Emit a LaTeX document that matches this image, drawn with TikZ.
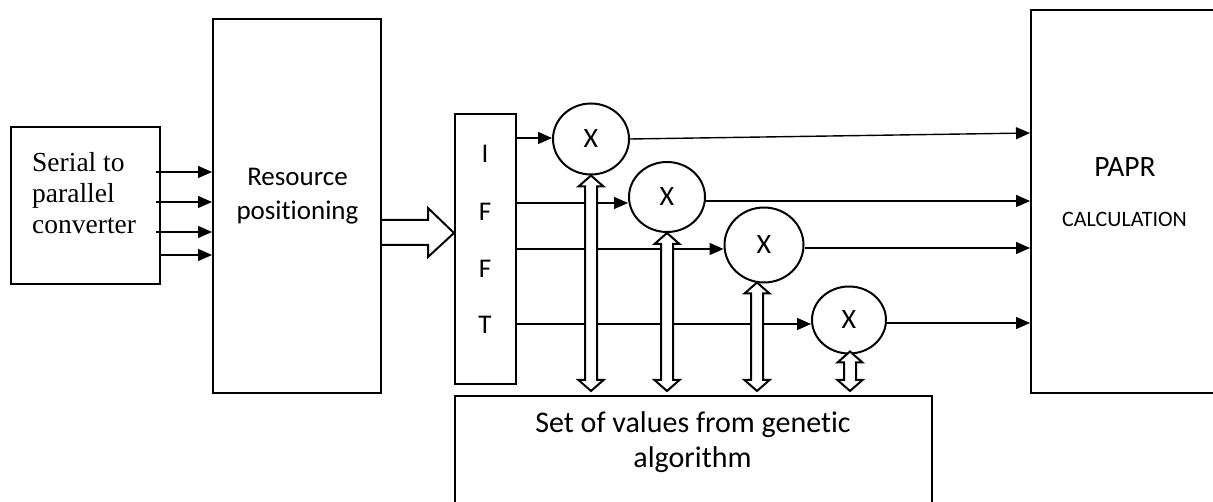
\documentclass[tikz,border=0pt]{standalone}
\usepackage{fontspec}
\setmainfont{Carlito}[Ligatures=NoCommon]
\newfontfamily\serialserif{Liberation Serif}
\usetikzlibrary{arrows.meta,shapes.geometric,calc}

% hollow two-headed vertical arrow between a top point and a bottom point
\newcommand\twoway[2]{%
  \draw[hollow] (#1) -- ++(-12.5,11) -- ++(6.5,0) -- ($(#2)+(-6,-11)$)
    -- ++(-6.5,0) -- (#2) -- ++(12.5,-11) -- ++(-6.5,0)
    -- ($(#1)+(6,11)$) -- ++(6.5,0) -- cycle;}

\begin{document}
\begin{tikzpicture}[x=1pt,y=-1pt,
  block/.style={draw,line width=2pt,inner sep=0pt,rectangle},
  mixer/.style={draw,line width=2pt,ellipse,inner sep=0pt,
    font=\fontsize{28}{32}\selectfont},
  feed/.style={line width=1.4pt,-{Triangle[length=14pt,width=12pt]}},
  hollow/.style={draw,line width=2pt,fill=white,line join=miter},
  txt/.style={inner sep=0pt,anchor=base},
  serialtxt/.style={inner sep=0pt,anchor=base west,
    font=\serialserif\fontsize{27.5}{31}\selectfont},
]
\useasboundingbox (0,0) rectangle (1213,502);

% blocks
\node[block,minimum width=149pt,minimum height=157pt] (sp) at (85.5,205.5) {};
\node[block,minimum width=168pt,minimum height=374pt] (res) at (297,206) {};
\node[block,minimum width=61pt,minimum height=270pt] (ifft) at (485.5,249) {};
\node[block,minimum width=209pt,minimum height=383pt] (papr) at (1135.5,201.5) {};
\node[block,minimum width=477pt,minimum height=124pt] (ga) at (693.5,458) {};

% block texts
\node[serialtxt] (sp1) at (32,172) {Serial to};
\node[serialtxt] (sp2) at (32,203) {parallel};
\node[serialtxt] (sp3) at (32,234) {converter};
\node[txt,font=\fontsize{27}{30}\selectfont] (rs1) at (297.5,186) {Resource};
\node[txt,font=\fontsize{27}{30}\selectfont] (rs2) at (297.5,220) {positioning};
\node[inner sep=0pt,font=\fontsize{27}{30}\selectfont] (lI) at (485,153.5) {I};
\node[inner sep=0pt,font=\fontsize{27}{30}\selectfont] (lF1) at (485,211.5) {F};
\node[inner sep=0pt,font=\fontsize{27}{30}\selectfont] (lF2) at (485,269) {F};
\node[inner sep=0pt,font=\fontsize{27}{30}\selectfont] (lT) at (485,325) {T};
\node[inner sep=0pt,font=\fontsize{29.5}{32}\selectfont] (pp1) at (1125,167) {PAPR};
\node[inner sep=0pt,font=\fontsize{22}{25}\selectfont] (pp2) at (1124.5,219.5) {CALCULATION};
\node[txt,font=\fontsize{30}{34}\selectfont] (ga1) at (693,432) {Set of values from genetic};
\node[txt,font=\fontsize{30}{34}\selectfont] (ga2) at (692.5,467) {algorithm};

% multipliers
\node[mixer,minimum width=76pt,minimum height=71pt] (c1) at (591,139) {X};
\node[mixer,minimum width=76pt,minimum height=70pt] (c2) at (667,197) {X};
\node[mixer,minimum width=79pt,minimum height=75pt] (c3) at (764,245) {X};
\node[mixer,minimum width=74pt,minimum height=67pt] (c4) at (849,320) {X};

% serial to parallel outputs
\draw[feed] ($(sp.east |- 0,172)+(-5,0)$) -- (res.west |- 0,172);
\draw[feed] ($(sp.east |- 0,202)+(-5,0)$) -- (res.west |- 0,202);
\draw[feed] ($(sp.east |- 0,232)+(-5,0)$) -- (res.west |- 0,232);
\draw[feed] (sp.east |- 0,255) -- (res.west |- 0,255);

% wide arrow into the IFFT
\draw[hollow] (res.east |- 0,220) -- (428,220) -- (428,208) -- (ifft.west |- 0,233)
  -- (428,257) -- (428,245) -- (res.east |- 0,245);

% IFFT outputs to the multipliers
\draw[feed] (ifft.east |- 0,138) -- (c1.west |- 0,138);
\draw[feed] (ifft.east |- 0,203) -- (c2.west |- 0,203);
\draw[feed] (ifft.east |- 0,249) -- (c3.west |- 0,249);
\draw[feed] (ifft.east |- 0,324) -- (c4.west |- 0,324);

% multiplier outputs to the PAPR block
\draw[feed] (c1.east) -- (papr.west |- 0,133);
\draw[feed] (c2.east |- 0,201) -- (papr.west |- 0,201);
\draw[feed] (c3.east |- 0,248) -- (papr.west |- 0,248);
\draw[feed] (c4.east |- 0,323) -- (papr.west |- 0,323);

% links between multipliers and the genetic algorithm block
\coordinate (d1t) at (c1.south);
\coordinate (d2t) at (c2.south);
\coordinate (d3t) at ($(c3.south)+(-7,-1)$);
\coordinate (d4t) at ($(c4.south)+(1,-3)$);
\coordinate (d1b) at ($(d1t |- ga.north)+(0,-4)$);
\coordinate (d2b) at ($(d2t |- ga.north)+(0,-4)$);
\coordinate (d3b) at ($(d3t |- ga.north)+(0,-4)$);
\coordinate (d4b) at ($(d4t |- ga.north)+(0,-4)$);
\twoway{d1t}{d1b}
\twoway{d2t}{d2b}
\twoway{d3t}{d3b}
\twoway{d4t}{d4b}
\end{tikzpicture}
\end{document}
